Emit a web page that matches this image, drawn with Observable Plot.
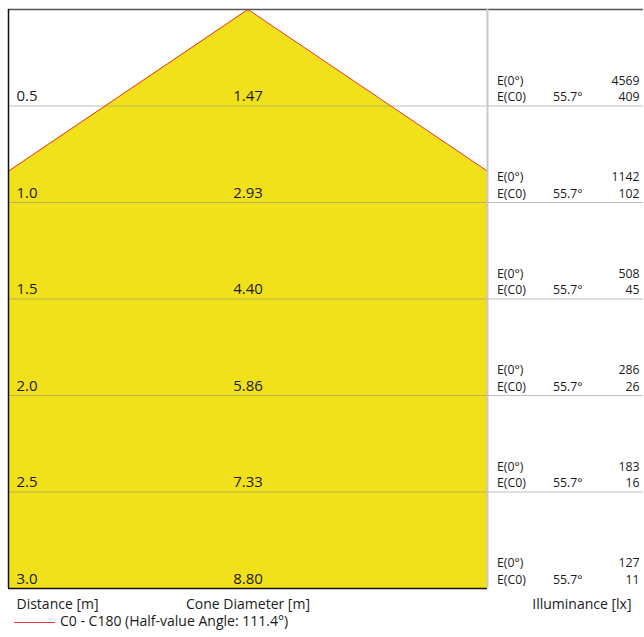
<!DOCTYPE html>
<html>
<head>
<meta charset="utf-8">
<script src="https://cdn.jsdelivr.net/npm/d3@7"></script>
<script src="https://cdn.jsdelivr.net/npm/@observablehq/plot@0.6"></script>
<style>
  body { margin: 0; background: #fff; font-family: "Open Sans", sans-serif; color: #1a1a1a; }
  #legend { height: 25px; line-height: 18px; font-size: 14px; white-space: nowrap; }
  #legend .swatch { display: inline-block; width: 41px; height: 0; border-top: 1px solid #e8383d; margin-left: 14px; margin-right: 5px; vertical-align: middle; }
</style>
</head>
<body>
<div id="chart"></div>
<div id="legend"></div>
<script>
// Data
const distances = [0.5, 1.0, 1.5, 2.0, 2.5, 3.0];
const diameters = [1.47, 2.93, 4.40, 5.86, 7.33, 8.80];
const e0Values = [4569, 1142, 508, 286, 183, 127];
const ec0Values = [409, 102, 45, 26, 16, 11];
const halfAngle = 55.7;        // degrees
const fullAngle = 111.4;       // half-value angle
const viewHalfWidth = 1.228;   // metres shown each side of the axis
const axisLabels = ["Distance [m]", "Cone Diameter [m]", "Illuminance [lx]"];
const legendLabel = "C0 - C180 (Half-value Angle: " + fullAngle + "°)";

const maxD = d3.max(distances);
const t = Math.tan(halfAngle * Math.PI / 180);
const R = viewHalfWidth;
const cone = [
  {x: -R, y: R / t},
  {x: 0, y: 0},
  {x: R, y: R / t}
];
const rows = distances.map((d, i) => ({d, dia: diameters[i], e0: e0Values[i], ec0: ec0Values[i]}));
const ink = "#1a1a1a";
const small = 12.3;

const chart = Plot.plot({
  width: 644,
  height: 612,
  marginLeft: 8,
  marginRight: 1,
  marginTop: 9,
  marginBottom: 24,
  style: {fontFamily: "Open Sans", background: "#fff"},
  x: {domain: [-R, R], range: [8, 487], axis: null},
  y: {domain: [0, maxD], reverse: true, axis: null},
  marks: [
    Plot.areaY(cone, {x: "x", y1: "y", y2: maxD, fill: "#f1e11b", curve: "linear"}),
    Plot.line(cone, {x: "x", y: "y", stroke: "#e8383d", strokeWidth: 1}),
    Plot.ruleY(distances.slice(0, -1), {stroke: "#8a8a8a", strokeOpacity: 0.55, strokeWidth: 1}),
    Plot.ruleY([maxD], {x1: -R, x2: R, stroke: "#111", strokeWidth: 1.5}),
    Plot.ruleY([0], {stroke: "#555", strokeWidth: 1.5}),
    Plot.ruleX([-R], {y1: 0, y2: maxD, stroke: "#111", strokeWidth: 1.5}),
    Plot.ruleX([R], {y1: 0, y2: maxD, stroke: "#c8c8c8", strokeWidth: 2}),
    // left panel labels
    Plot.text(rows, {x: -R, y: "d", text: r => r.d.toFixed(1), textAnchor: "start", lineAnchor: "bottom", dx: 8, dy: -5, fontSize: 15, fill: ink}),
    Plot.text(rows, {x: 0, y: "d", text: r => r.dia.toFixed(2), textAnchor: "middle", lineAnchor: "bottom", dy: -5, fontSize: 15, fill: ink}),
    // right panel labels
    Plot.text(rows, {x: R, y: "d", text: () => "E(0°)", textAnchor: "start", lineAnchor: "bottom", dx: 9.5, dy: -21.5, fontSize: small, fill: ink}),
    Plot.text(rows, {x: R, y: "d", text: () => "E(C0)", textAnchor: "start", lineAnchor: "bottom", dx: 9.5, dy: -5, fontSize: small, fill: ink}),
    Plot.text(rows, {x: R, y: "d", text: () => halfAngle + "°", textAnchor: "start", lineAnchor: "bottom", dx: 65.5, dy: -5, fontSize: small, fill: ink}),
    Plot.text(rows, {frameAnchor: "right", y: "d", text: r => String(r.e0), textAnchor: "end", lineAnchor: "bottom", dx: -4, dy: -21.5, fontSize: small, fill: ink}),
    Plot.text(rows, {frameAnchor: "right", y: "d", text: r => String(r.ec0), textAnchor: "end", lineAnchor: "bottom", dx: -4, dy: -5, fontSize: small, fill: ink}),
    // axis titles below
    Plot.text([axisLabels[0]], {x: -R, y: maxD, text: d => d, textAnchor: "start", lineAnchor: "bottom", dx: 8, dy: 20, fontSize: 14, fill: ink}),
    Plot.text([axisLabels[1]], {x: 0, y: maxD, text: d => d, textAnchor: "middle", lineAnchor: "bottom", dy: 20, fontSize: 14, fill: ink}),
    Plot.text([axisLabels[2]], {frameAnchor: "right", y: maxD, text: d => d, textAnchor: "end", lineAnchor: "bottom", dx: -12, dy: 20, fontSize: 14, fill: ink})
  ]
});
document.getElementById("chart").appendChild(chart);

const legend = document.getElementById("legend");
const sw = document.createElement("span");
sw.className = "swatch";
legend.appendChild(sw);
legend.appendChild(document.createTextNode(legendLabel));
</script>
</body>
</html>
